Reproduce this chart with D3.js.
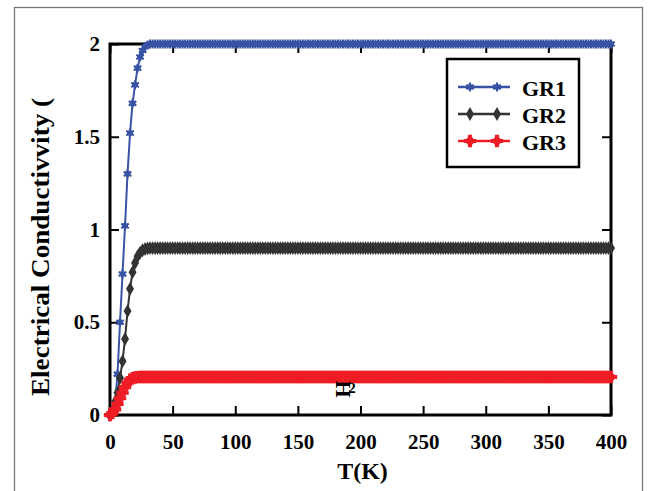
<!DOCTYPE html>
<html>
<head>
<meta charset="utf-8">
<script src="https://cdn.jsdelivr.net/npm/d3@7"></script>
<style>
  body { margin: 0; background: #fff; }
  text { font-family: "Liberation Serif", "Times New Roman", serif; font-weight: bold; fill: #000; }
</style>
</head>
<body>
<div id="chart"></div>
<script>
// Temperature grid (K).
const temps = [
  0, 2, 4, 6, 8, 10, 12, 14, 16, 18, 20, 22, 24, 26, 28, 30, 32, 34, 36, 38, 40, 42, 44, 46, 48,
  50, 52, 54, 56, 58, 60, 62, 64, 66, 68, 70, 72, 74, 76, 78, 80, 82, 84, 86, 88, 90, 92,
  94, 96, 98, 100, 102, 104, 106, 108, 110, 112, 114, 116, 118, 120, 122, 124, 126, 128, 130, 132, 134, 136,
  138, 140, 142, 144, 146, 148, 150, 152, 154, 156, 158, 160, 162, 164, 166, 168, 170, 172, 174, 176, 178, 180,
  182, 184, 186, 188, 190, 192, 194, 196, 198, 200, 202, 204, 206, 208, 210, 212, 214, 216, 218, 220, 222, 224,
  226, 228, 230, 232, 234, 236, 238, 240, 242, 244, 246, 248, 250, 252, 254, 256, 258, 260, 262, 264, 266, 268,
  270, 272, 274, 276, 278, 280, 282, 284, 286, 288, 290, 292, 294, 296, 298, 300, 302, 304, 306, 308, 310, 312,
  314, 316, 318, 320, 322, 324, 326, 328, 330, 332, 334, 336, 338, 340, 342, 344, 346, 348, 350, 352, 354, 356,
  358, 360, 362, 364, 366, 368, 370, 372, 374, 376, 378, 380, 382, 384, 386, 388, 390, 392, 394, 396, 398, 400
];

// Conductivity values, one per temperature.
const gr1 = [
  0, 0.01, 0.06, 0.22, 0.50, 0.76, 1.02, 1.30, 1.52, 1.68, 1.78, 1.87, 1.93, 1.965, 1.985, 1.995,
  2, 2, 2, 2, 2, 2, 2, 2, 2,
  2, 2, 2, 2, 2, 2, 2, 2, 2, 2, 2, 2, 2, 2, 2, 2, 2, 2, 2, 2, 2, 2,
  2, 2, 2, 2, 2, 2, 2, 2, 2, 2, 2, 2, 2, 2, 2, 2, 2, 2, 2, 2, 2, 2,
  2, 2, 2, 2, 2, 2, 2, 2, 2, 2, 2, 2, 2, 2, 2, 2, 2, 2, 2, 2, 2, 2,
  2, 2, 2, 2, 2, 2, 2, 2, 2, 2, 2, 2, 2, 2, 2, 2, 2, 2, 2, 2, 2, 2,
  2, 2, 2, 2, 2, 2, 2, 2, 2, 2, 2, 2, 2, 2, 2, 2, 2, 2, 2, 2, 2, 2,
  2, 2, 2, 2, 2, 2, 2, 2, 2, 2, 2, 2, 2, 2, 2, 2, 2, 2, 2, 2, 2, 2,
  2, 2, 2, 2, 2, 2, 2, 2, 2, 2, 2, 2, 2, 2, 2, 2, 2, 2, 2, 2, 2, 2,
  2, 2, 2, 2, 2, 2, 2, 2, 2, 2, 2, 2, 2, 2, 2, 2, 2, 2, 2, 2, 2, 2
];
const gr2 = [
  0, 0.02, 0.07, 0.12, 0.20, 0.29, 0.41, 0.56, 0.68, 0.77, 0.82, 0.855, 0.875, 0.888, 0.895, 0.898,
  0.9, 0.9, 0.9, 0.9, 0.9, 0.9, 0.9, 0.9, 0.9,
  0.9, 0.9, 0.9, 0.9, 0.9, 0.9, 0.9, 0.9, 0.9, 0.9, 0.9, 0.9, 0.9, 0.9, 0.9, 0.9, 0.9, 0.9, 0.9, 0.9, 0.9, 0.9,
  0.9, 0.9, 0.9, 0.9, 0.9, 0.9, 0.9, 0.9, 0.9, 0.9, 0.9, 0.9, 0.9, 0.9, 0.9, 0.9, 0.9, 0.9, 0.9, 0.9, 0.9, 0.9,
  0.9, 0.9, 0.9, 0.9, 0.9, 0.9, 0.9, 0.9, 0.9, 0.9, 0.9, 0.9, 0.9, 0.9, 0.9, 0.9, 0.9, 0.9, 0.9, 0.9, 0.9, 0.9,
  0.9, 0.9, 0.9, 0.9, 0.9, 0.9, 0.9, 0.9, 0.9, 0.9, 0.9, 0.9, 0.9, 0.9, 0.9, 0.9, 0.9, 0.9, 0.9, 0.9, 0.9, 0.9,
  0.9, 0.9, 0.9, 0.9, 0.9, 0.9, 0.9, 0.9, 0.9, 0.9, 0.9, 0.9, 0.9, 0.9, 0.9, 0.9, 0.9, 0.9, 0.9, 0.9, 0.9, 0.9,
  0.9, 0.9, 0.9, 0.9, 0.9, 0.9, 0.9, 0.9, 0.9, 0.9, 0.9, 0.9, 0.9, 0.9, 0.9, 0.9, 0.9, 0.9, 0.9, 0.9, 0.9, 0.9,
  0.9, 0.9, 0.9, 0.9, 0.9, 0.9, 0.9, 0.9, 0.9, 0.9, 0.9, 0.9, 0.9, 0.9, 0.9, 0.9, 0.9, 0.9, 0.9, 0.9, 0.9, 0.9,
  0.9, 0.9, 0.9, 0.9, 0.9, 0.9, 0.9, 0.9, 0.9, 0.9, 0.9, 0.9, 0.9, 0.9, 0.9, 0.9, 0.9, 0.9, 0.9, 0.9, 0.9, 0.9
];
const gr3 = [
  0, 0.01, 0.03, 0.06, 0.09, 0.12, 0.15, 0.175, 0.19, 0.198, 0.202, 0.204, 0.205, 0.205, 0.205, 0.205,
  0.205, 0.205, 0.205, 0.205, 0.205, 0.205, 0.205, 0.205, 0.205,
  0.205, 0.205, 0.205, 0.205, 0.205, 0.205, 0.205, 0.205, 0.205, 0.205, 0.205, 0.205, 0.205, 0.205, 0.205, 0.205, 0.205, 0.205, 0.205, 0.205, 0.205, 0.205,
  0.205, 0.205, 0.205, 0.205, 0.205, 0.205, 0.205, 0.205, 0.205, 0.205, 0.205, 0.205, 0.205, 0.205, 0.205, 0.205, 0.205, 0.205, 0.205, 0.205, 0.205, 0.205,
  0.205, 0.205, 0.205, 0.205, 0.205, 0.205, 0.205, 0.205, 0.205, 0.205, 0.205, 0.205, 0.205, 0.205, 0.205, 0.205, 0.205, 0.205, 0.205, 0.205, 0.205, 0.205,
  0.205, 0.205, 0.205, 0.205, 0.205, 0.205, 0.205, 0.205, 0.205, 0.205, 0.205, 0.205, 0.205, 0.205, 0.205, 0.205, 0.205, 0.205, 0.205, 0.205, 0.205, 0.205,
  0.205, 0.205, 0.205, 0.205, 0.205, 0.205, 0.205, 0.205, 0.205, 0.205, 0.205, 0.205, 0.205, 0.205, 0.205, 0.205, 0.205, 0.205, 0.205, 0.205, 0.205, 0.205,
  0.205, 0.205, 0.205, 0.205, 0.205, 0.205, 0.205, 0.205, 0.205, 0.205, 0.205, 0.205, 0.205, 0.205, 0.205, 0.205, 0.205, 0.205, 0.205, 0.205, 0.205, 0.205,
  0.205, 0.205, 0.205, 0.205, 0.205, 0.205, 0.205, 0.205, 0.205, 0.205, 0.205, 0.205, 0.205, 0.205, 0.205, 0.205, 0.205, 0.205, 0.205, 0.205, 0.205, 0.205,
  0.205, 0.205, 0.205, 0.205, 0.205, 0.205, 0.205, 0.205, 0.205, 0.205, 0.205, 0.205, 0.205, 0.205, 0.205, 0.205, 0.205, 0.205, 0.205, 0.205, 0.205, 0.205
];

const seriesNames = ["GR1", "GR2", "GR3"];
const xTicks = [0, 50, 100, 150, 200, 250, 300, 350, 400];
const yTicks = [0, 0.5, 1, 1.5, 2];

// Dimensions of chart.
const W = 649, H = 491;
const margin = { top: 44, right: 38, bottom: 76, left: 110 };
const width = W - margin.left - margin.right;
const height = H - margin.top - margin.bottom;

const series = [
  { name: seriesNames[0], values: gr1, color: "#3953a4", marker: "star" },
  { name: seriesNames[1], values: gr2, color: "#333333", marker: "diamond" },
  { name: seriesNames[2], values: gr3, color: "#ee1d25", marker: "cross" }
];

const svg = d3.select("#chart").append("svg")
  .attr("width", W)
  .attr("height", H);

// Outer gray frame of the figure.
svg.append("rect")
  .attr("x", 14.5).attr("y", 7.5)
  .attr("width", 628).attr("height", 500)
  .attr("fill", "none")
  .attr("stroke", "#777")
  .attr("stroke-width", 1.3);

const g = svg.append("g")
  .attr("transform", `translate(${margin.left},${margin.top})`);

const x = d3.scaleLinear().domain([0, 400]).range([0, width]);
const y = d3.scaleLinear().domain([0, 2]).range([height, 0]);

// Axes, ticks pointing inward.
function styleAxis(sel) {
  sel.select(".domain").remove();
  sel.selectAll(".tick line").attr("stroke", "#000").attr("stroke-width", 2);
  sel.selectAll(".tick text").attr("font-size", 21).attr("font-family", null);
}

g.append("g")
  .attr("transform", `translate(0,${height})`)
  .call(d3.axisBottom(x).tickValues(xTicks).tickSizeInner(-9).tickSizeOuter(0).tickPadding(19))
  .call(styleAxis);

g.append("g")
  .call(d3.axisTop(x).tickValues(xTicks).tickSizeInner(-9).tickSizeOuter(0).tickFormat(""))
  .call(styleAxis);

g.append("g")
  .call(d3.axisLeft(y).tickValues(yTicks).tickSizeInner(-9).tickSizeOuter(0).tickPadding(10)
    .tickFormat(d3.format("")))
  .call(styleAxis);

g.append("g")
  .attr("transform", `translate(${width},0)`)
  .call(d3.axisRight(y).tickValues(yTicks).tickSizeInner(-9).tickSizeOuter(0).tickFormat(""))
  .call(styleAxis);

// Plot frame
g.append("rect")
  .attr("width", width).attr("height", height)
  .attr("fill", "none")
  .attr("stroke", "#000")
  .attr("stroke-width", 3);

// Marker shapes
function drawMarker(sel, s) {
  if (s.marker === "star") {
    sel.append("path")
      .attr("d", d3.symbol().type(d3.symbolAsterisk).size(55)())
      .attr("fill", "none").attr("stroke", s.color).attr("stroke-width", 2);
    sel.append("circle").attr("r", 3).attr("fill", s.color);
  } else if (s.marker === "diamond") {
    sel.append("path")
      .attr("d", d3.symbol().type(d3.symbolDiamond).size(55)())
      .attr("fill", s.color);
  } else {
    sel.append("path")
      .attr("d", d3.symbol().type(d3.symbolCross).size(85)())
      .attr("fill", s.color);
    sel.append("circle").attr("r", 4.2).attr("fill", s.color);
  }
}

const line = d3.line()
  .x(d => x(d[0]))
  .y(d => y(d[1]));

series.forEach(s => {
  const pts = temps.map((t, i) => [t, s.values[i]]);
  const sg = g.append("g");
  sg.append("path")
    .datum(pts)
    .attr("d", line)
    .attr("fill", "none")
    .attr("stroke", s.color)
    .attr("stroke-width", 2);
  sg.selectAll("g.mk")
    .data(pts)
    .join("g")
    .attr("class", "mk")
    .attr("transform", d => `translate(${x(d[0])},${y(d[1])})`)
    .each(function () { drawMarker(d3.select(this), s); });
});

// Axis titles
svg.append("text")
  .attr("x", margin.left + x(200) + 2)
  .attr("y", 479)
  .attr("text-anchor", "middle")
  .attr("font-size", 24)
  .text("T(K)");

svg.append("text")
  .attr("transform", "translate(49,247) rotate(-90)")
  .attr("text-anchor", "middle")
  .attr("font-size", 26)
  .attr("textLength", 298)
  .attr("lengthAdjust", "spacingAndGlyphs")
  .text("Electrical Conductivvity (");

// Stray rotated unit fragment inside the plot
svg.append("text")
  .attr("transform", "translate(336,389) rotate(90)")
  .attr("text-anchor", "middle")
  .attr("font-size", 22)
  .text("H");
svg.append("text")
  .attr("x", 352).attr("y", 393)
  .attr("text-anchor", "middle")
  .attr("font-size", 15)
  .attr("font-weight", "normal")
  .text("2");

// Legend
const legend = svg.append("g");
legend.append("rect")
  .attr("x", 447).attr("y", 59)
  .attr("width", 132).attr("height", 108)
  .attr("fill", "#fff")
  .attr("stroke", "#000")
  .attr("stroke-width", 2.5);

series.forEach((s, i) => {
  const ly = 87 + i * 27;
  const row = legend.append("g");
  row.append("line")
    .attr("x1", 458).attr("x2", 510)
    .attr("y1", ly).attr("y2", ly)
    .attr("stroke", s.color).attr("stroke-width", 2.5);
  [470, 497].forEach(mx => {
    const m = row.append("g").attr("transform", `translate(${mx},${ly})`);
    drawMarker(m, s);
  });
  row.append("text")
    .attr("x", 522).attr("y", ly + 8.5)
    .attr("font-size", 22)
    .text(s.name);
});
</script>
</body>
</html>
